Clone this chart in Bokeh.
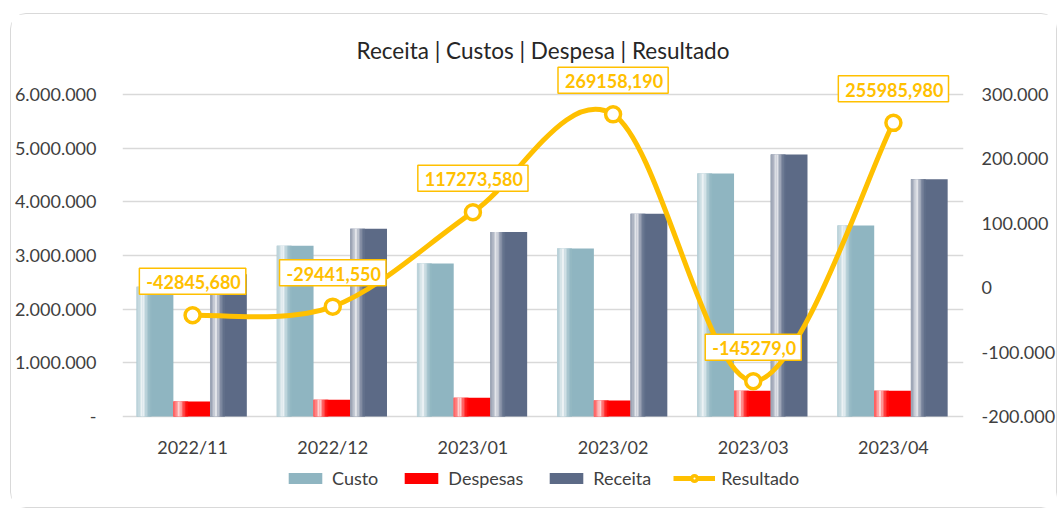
from bokeh.plotting import figure
from bokeh.models import (Range1d, LinearAxis, FixedTicker, ColumnDataSource,
                          Label, Legend, LegendItem)
from bokeh.embed import file_html
from bokeh.resources import INLINE

# ---------------- data ----------------
categories = ["2022/11", "2022/12", "2023/01", "2023/02", "2023/03", "2023/04"]
custo = [2420000, 3180000, 2850000, 3130000, 4530000, 3560000]
despesas = [280000, 310000, 350000, 300000, 480000, 480000]
receita = [2650000, 3500000, 3440000, 3780000, 4880000, 4420000]
resultado = [-42845.680, -29441.550, 117273.580, 269158.190, -145279.0, 255985.980]
resultado_labels = ["-42845,680", "-29441,550", "117273,580", "269158,190", "-145279,0", "255985,980"]

left_ticks = [0, 1000000, 2000000, 3000000, 4000000, 5000000, 6000000]
left_tick_labels = ["-", "1.000.000", "2.000.000", "3.000.000", "4.000.000", "5.000.000", "6.000.000"]
right_ticks = [-200000, -100000, 0, 100000, 200000, 300000]
right_tick_labels = ["-200.000", "-100.000", "0", "100.000", "200.000", "300.000"]

# ---------------- style ----------------
FONT = "Lato"
GOLD = "#FFC000"
C_CUSTO = "#8fb5c1"
C_DESP = "#ff0000"
C_REC = "#5c6a86"
TXT = "#404040"

W, H = 1047, 495               # chart card (placed at 10,13 in the page)
FL, FR, FT, FB = 108, 90, 49, 3
frame_h = H - FT - FB          # plot frame height in px
gap_top = 31                   # px between frame top and top gridline
gap_bot = 90                   # px between zero line and frame bottom
px_span = frame_h - gap_top - gap_bot

l_span = left_ticks[-1] - left_ticks[0]
left_end = left_ticks[-1] + l_span * gap_top / px_span
left_start = left_ticks[0] - l_span * gap_bot / px_span
r_span = right_ticks[-1] - right_ticks[0]
right_end = right_ticks[-1] + r_span * gap_top / px_span
right_start = right_ticks[0] - r_span * gap_bot / px_span

n = len(categories)
xc = [i + 0.5 for i in range(n)]

p = figure(width=W, height=H, output_backend="svg", toolbar_location=None,
           x_range=Range1d(0, n), y_range=Range1d(left_start, left_end),
           x_axis_location=None,
           min_border_left=FL, min_border_right=FR, min_border_top=FT, min_border_bottom=FB)
p.margin = (13, 4, 6, 10)
p.extra_y_ranges = {"res": Range1d(right_start, right_end)}
p.outline_line_color = None
p.background_fill_color = "white"
p.border_fill_color = "white"
p.styles = {"border": "1.5px solid #d9d9d9", "border-radius": "16px"}

p.title.text = "Receita | Custos | Despesa | Resultado"
p.title.align = "center"
p.title.text_font = FONT
p.title.text_font_size = "22.5px"
p.title.text_font_style = "normal"
p.title.text_color = "#262626"
p.title.standoff = 0

# axes
ya = p.yaxis[0]
ya.ticker = FixedTicker(ticks=left_ticks)
ya.major_label_overrides = {t: l for t, l in zip(left_ticks, left_tick_labels)}
ra = LinearAxis(y_range_name="res", ticker=FixedTicker(ticks=right_ticks))
ra.major_label_overrides = {t: l for t, l in zip(right_ticks, right_tick_labels)}
p.add_layout(ra, "right")
for ax in (ya, ra):
    ax.axis_line_color = None
    ax.major_tick_line_color = None
    ax.minor_tick_line_color = None
    ax.major_label_text_font = FONT
    ax.major_label_text_font_size = "18px"
    ax.major_label_text_color = TXT
ya.major_label_standoff = 20
ra.major_label_standoff = 12

p.xgrid.visible = False
p.ygrid.ticker = FixedTicker(ticks=left_ticks)
p.ygrid.grid_line_color = "#d9d9d9"
p.ygrid.grid_line_width = 1.5

# category labels under the zero line
for x, c in zip(xc, categories):
    p.add_layout(Label(x=x, y=left_ticks[0], text=c, y_offset=-30,
                       text_align="center", text_baseline="middle",
                       text_font=FONT, text_font_size="18px", text_color=TXT))

# ---------------- bars with cylinder-like highlight ----------------
bw = 0.262


def mix(hexc, f):
    r, g, b = int(hexc[1:3], 16), int(hexc[3:5], 16), int(hexc[5:7], 16)
    r = round(r + (255 - r) * f)
    g = round(g + (255 - g) * f)
    b = round(b + (255 - b) * f)
    return "#%02x%02x%02x" % (r, g, b)


prof_t = [0.0, 0.08, 0.16, 0.24, 0.32, 0.40]
prof_f = [0.35, 0.55, 0.92, 0.5, 0.15, 0.0]


def fprof(t):
    for i in range(len(prof_t) - 1):
        if prof_t[i] <= t <= prof_t[i + 1]:
            a = (t - prof_t[i]) / (prof_t[i + 1] - prof_t[i])
            return prof_f[i] + a * (prof_f[i + 1] - prof_f[i])
    return 0.0


NS = 10
bar_renderers = {}
for vals, off, col, name in [(custo, -bw, C_CUSTO, "Custo"),
                             (despesas, 0.0, C_DESP, "Despesas"),
                             (receita, bw, C_REC, "Receita")]:
    xs = [c + off - 0.006 for c in xc]
    src = ColumnDataSource(dict(x=xs, top=vals))
    r = p.vbar(x="x", top="top", bottom=0, width=bw, source=src,
               fill_color=col, line_color=None)
    bar_renderers[name] = r
    sw = 0.40 * bw / NS
    for k in range(NS):
        t = (k + 0.5) / NS * 0.40
        sx = [x - bw / 2 + (k + 0.5) * sw for x in xs]
        p.vbar(x=sx, top=vals, bottom=0, width=sw * 1.15,
               fill_color=mix(col, fprof(t)), line_color=None)

# ---------------- smoothed result line ----------------
m = []
for i in range(n):
    a = resultado[i - 1] if i > 0 else resultado[i]
    b = resultado[i + 1] if i < n - 1 else resultado[i]
    xa_ = xc[i - 1] if i > 0 else xc[i]
    xb_ = xc[i + 1] if i < n - 1 else xc[i]
    m.append(((xb_ - xa_) / 2, (b - a) / 2))
bz = dict(x0=[], y0=[], x1=[], y1=[], cx0=[], cy0=[], cx1=[], cy1=[])
for i in range(n - 1):
    bz["x0"].append(xc[i]); bz["y0"].append(resultado[i])
    bz["x1"].append(xc[i + 1]); bz["y1"].append(resultado[i + 1])
    bz["cx0"].append(xc[i] + m[i][0] / 3); bz["cy0"].append(resultado[i] + m[i][1] / 3)
    bz["cx1"].append(xc[i + 1] - m[i + 1][0] / 3); bz["cy1"].append(resultado[i + 1] - m[i + 1][1] / 3)
line_r = p.bezier(x0="x0", y0="y0", x1="x1", y1="y1", cx0="cx0", cy0="cy0",
                  cx1="cx1", cy1="cy1", source=ColumnDataSource(bz),
                  y_range_name="res", line_color=GOLD, line_width=5)
mark_r = p.scatter(x=xc, y=resultado, y_range_name="res", marker="circle", size=15,
                   fill_color="white", line_color=GOLD, line_width=3.5)

for x, y, t in zip(xc, resultado, resultado_labels):
    p.add_layout(Label(x=x, y=y, y_range_name="res", text=t, y_offset=34,
                       text_align="center", text_baseline="middle",
                       text_font=FONT, text_font_size="18px", text_font_style="bold",
                       text_color=GOLD,
                       background_fill_color="white", border_line_color=GOLD,
                       border_line_width=1.5, padding=(7, 5, 7, 5)))

# ---------------- legend ----------------
legend = Legend(items=[LegendItem(label="Custo", renderers=[bar_renderers["Custo"]]),
                       LegendItem(label="Despesas", renderers=[bar_renderers["Despesas"]]),
                       LegendItem(label="Receita", renderers=[bar_renderers["Receita"]]),
                       LegendItem(label="Resultado", renderers=[line_r, mark_r])],
                orientation="horizontal", location=(162, 17),
                label_text_font=FONT, label_text_font_size="18px", label_text_color=TXT,
                glyph_width=42, glyph_height=14, spacing=22, label_standoff=6,
                border_line_color=None, background_fill_alpha=0, padding=0, margin=0)
p.add_layout(legend)

open("out.html", "w").write(file_html(p, INLINE))
